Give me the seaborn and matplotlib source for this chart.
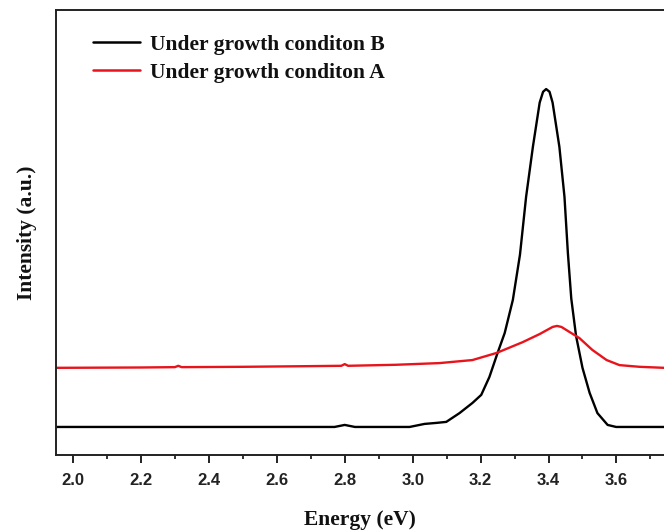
import matplotlib
matplotlib.use("Agg")
import matplotlib.pyplot as plt
from matplotlib.ticker import MultipleLocator, FormatStrFormatter
import seaborn as sns
import pandas as pd

# Curve B (black), energy in eV, intensity in a.u.
energy_b = [1.950, 2.300, 2.600, 2.770, 2.790, 2.800, 2.810, 2.830, 2.991, 3.035, 3.070, 3.099,
            3.138, 3.176, 3.202, 3.226, 3.250, 3.271, 3.295, 3.316, 3.334, 3.354, 3.374,
            3.384, 3.393, 3.403, 3.412, 3.432, 3.447, 3.457, 3.467, 3.481, 3.500, 3.521,
            3.544, 3.574, 3.599, 3.650, 3.740]
intensity_b = [0.000, 0.000, 0.000, 0.000, 0.004, 0.006, 0.004, 0.000, 0.000, 0.009, 0.012, 0.015,
               0.041, 0.071, 0.095, 0.148, 0.219, 0.278, 0.376, 0.510, 0.681, 0.829, 0.960,
               0.992, 1.000, 0.992, 0.960, 0.829, 0.681, 0.515, 0.380, 0.270, 0.175, 0.101,
               0.041, 0.006, 0.000, 0.000, 0.000]

# Curve A (red)
energy_a = [1.950, 2.200, 2.300, 2.310, 2.320, 2.500, 2.700, 2.790, 2.800, 2.810, 2.950, 3.079,
            3.176, 3.247, 3.324, 3.374, 3.412, 3.425, 3.438, 3.462, 3.491, 3.529, 3.571,
            3.609, 3.668, 3.740]
intensity_a = [0.175, 0.176, 0.177, 0.181, 0.177, 0.178, 0.180, 0.181, 0.186, 0.181, 0.184, 0.189,
               0.198, 0.219, 0.251, 0.275, 0.296, 0.299, 0.296, 0.281, 0.263, 0.228, 0.198,
               0.183, 0.178, 0.175]

labels = ["Under growth conditon B", "Under growth conditon A"]
colors = ["#000000", "#e8141c"]

df = pd.concat([
    pd.DataFrame({"Energy": energy_b, "Intensity": intensity_b, "Sample": labels[0]}),
    pd.DataFrame({"Energy": energy_a, "Intensity": intensity_a, "Sample": labels[1]}),
])

sns.set_theme(style="ticks")
plt.rcParams["font.family"] = ["Liberation Sans", "DejaVu Sans"]
serif = ["Liberation Serif", "DejaVu Serif"]

fig = plt.figure(figsize=(6.64, 5.30), dpi=100)
ax = fig.add_axes([56 / 664, 75 / 530, 1 - 56 / 664, (455 - 10) / 530])

sns.lineplot(data=df, x="Energy", y="Intensity", hue="Sample", palette=colors,
             hue_order=labels, linewidth=1.7, ax=ax, sort=False, estimator=None)

ax.set_xlim(1.95, 3.74)
ax.set_ylim(-0.083, 1.234)
ax.xaxis.set_major_locator(MultipleLocator(0.2))
ax.xaxis.set_minor_locator(MultipleLocator(0.1))
ax.xaxis.set_major_formatter(FormatStrFormatter("%.1f"))
ax.set_yticks([])
ax.tick_params(axis="x", which="major", direction="out", length=5.5, width=1.4, pad=7.5,
               labelsize=12, color="#222222", labelcolor="#222222")
ax.tick_params(axis="x", which="minor", direction="out", length=3, width=1.3, color="#222222")
for lbl in ax.get_xticklabels():
    lbl.set_fontweight("bold")

for side in ["left", "bottom", "top"]:
    ax.spines[side].set_linewidth(1.4)
    ax.spines[side].set_color("#222222")
ax.spines["right"].set_visible(False)

ax.set_xlabel("Energy (eV)", family=serif, fontweight="bold", fontsize=15.5, labelpad=15.5,
              color="#111111")
ax.set_ylabel("Intensity (a.u.)", family=serif, fontweight="bold", fontsize=15.5, labelpad=14,
              color="#111111")

leg = ax.legend(loc="upper left", bbox_to_anchor=(0.061, 0.944), frameon=False,
                prop={"family": serif, "weight": "bold", "size": 15.5},
                handlelength=2.2, handletextpad=0.45, labelspacing=0.36,
                borderaxespad=0.0, borderpad=0.0)
for line in leg.get_lines():
    line.set_linewidth(1.8)
for t in leg.get_texts():
    t.set_color("#111111")

fig.savefig("out.png", dpi=100)
